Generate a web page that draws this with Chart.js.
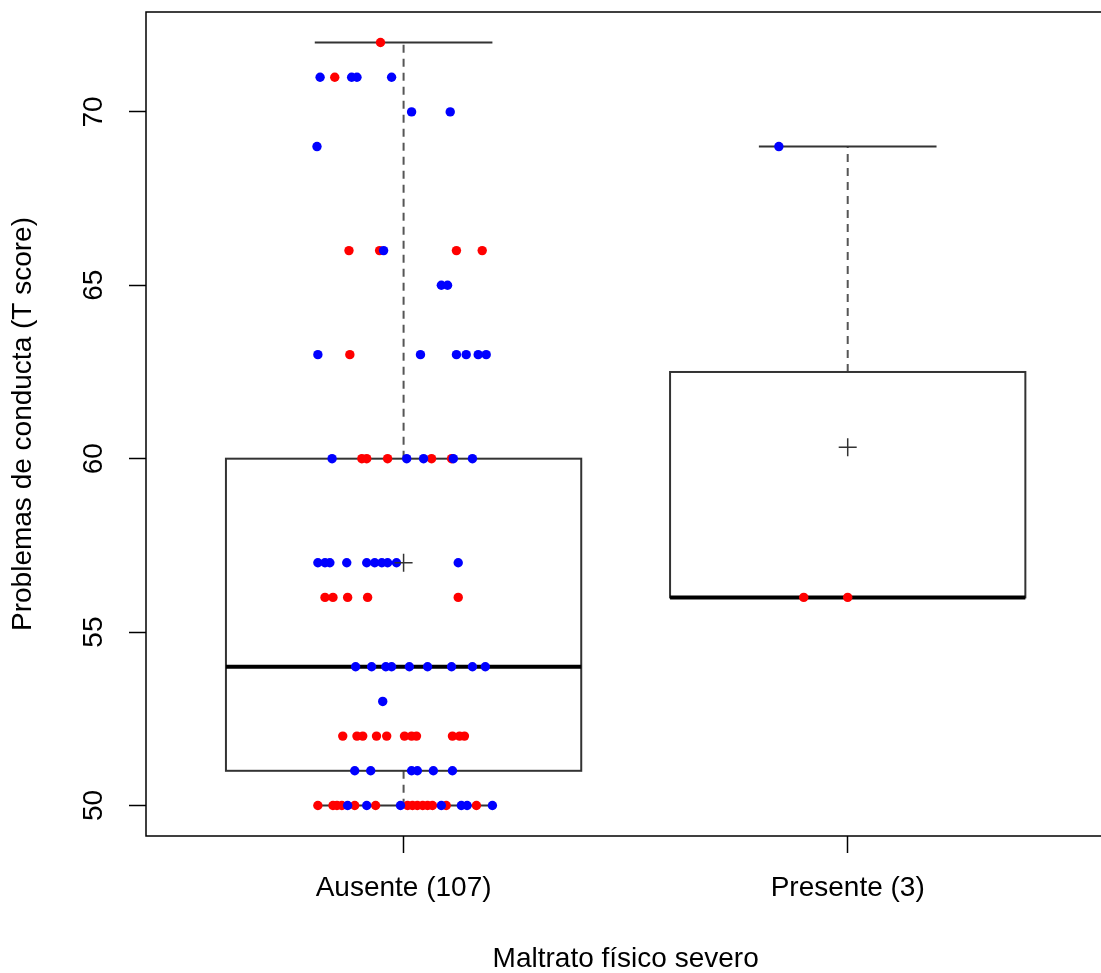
<!DOCTYPE html>
<html>
<head>
<meta charset="utf-8">
<title>Problemas de conducta</title>
<script src="https://cdn.jsdelivr.net/npm/chart.js@4.4.1/dist/chart.umd.min.js"></script>
<style>
  html, body { margin: 0; padding: 0; background: #fff; overflow: hidden; }
  #wrap { width: 1110px; height: 973px; }
</style>
</head>
<body>
<div id="wrap"><canvas id="boxChart" width="1110" height="973"></canvas></div>
<script>
var categories = ['Ausente (107)', 'Presente (3)'];
var yTicks = [50, 55, 60, 65, 70];

// resumen de cada caja
var whiskerLow = [50, 56];
var q1 = [51, 56];
var medians = [54, 56];
var q3 = [60, 62.5];
var whiskerHigh = [72, 69];
var means = [57, 60.33];

// puntos con jitter (x = grupo + desplazamiento)
var redX = [0.948,
  0.845,
  0.877, 0.946, 1.119, 1.177,
  0.879,
  0.906, 0.917, 0.964, 1.063, 1.108,
  0.823, 0.841, 0.874, 0.919, 1.123,
  0.863, 0.895, 0.908, 0.939, 0.962, 1.002, 1.018, 1.029, 1.110, 1.126, 1.137,
  0.807, 0.841, 0.850, 0.861, 0.890, 0.937, 1.009, 1.020, 1.031, 1.043, 1.054, 1.065, 1.096, 1.164,
  1.901, 2.000];
var redY = [72,
  71,
  66, 66, 66, 66,
  63,
  60, 60, 60, 60, 60,
  56, 56, 56, 56, 56,
  52, 52, 52, 52, 52, 52, 52, 52, 52, 52, 52,
  50, 50, 50, 50, 50, 50, 50, 50, 50, 50, 50, 50, 50, 50,
  56, 56];

var blueX = [0.812, 0.883, 0.895, 0.973,
  1.018, 1.105,
  0.805,
  0.955,
  1.085, 1.099,
  0.807, 1.038, 1.119, 1.141, 1.168, 1.186,
  0.839, 1.007, 1.045, 1.112, 1.155,
  0.807, 0.823, 0.834, 0.872, 0.917, 0.935, 0.951, 0.964, 0.984, 1.123,
  0.892, 0.928, 0.960, 0.973, 1.013, 1.054, 1.108, 1.155, 1.184,
  0.953,
  0.890, 0.926, 1.018, 1.031, 1.067, 1.110,
  0.874, 0.917, 0.993, 1.085, 1.130, 1.143, 1.200,
  1.845];
var blueY = [71, 71, 71, 71,
  70, 70,
  69,
  66,
  65, 65,
  63, 63, 63, 63, 63, 63,
  60, 60, 60, 60, 60,
  57, 57, 57, 57, 57, 57, 57, 57, 57, 57,
  54, 54, 54, 54, 54, 54, 54, 54, 54,
  53,
  51, 51, 51, 51, 51, 51,
  50, 50, 50, 50, 50, 50, 50,
  69];

var fontFam = '"Liberation Sans", Arial, sans-serif';

function toPoints(xs, ys) {
  var out = [];
  for (var i = 0; i < xs.length; i++) out.push({ x: xs[i], y: ys[i] });
  return out;
}

var boxPlugin = {
  id: 'boxPlugin',
  beforeDatasetsDraw: function (chart) {
    var ctx = chart.ctx, sx = chart.scales.x, sy = chart.scales.y;
    ctx.save();
    for (var i = 0; i < categories.length; i++) {
      var c = i + 1;
      var xc = sx.getPixelForValue(c);
      var xl = sx.getPixelForValue(c - 0.4), xr = sx.getPixelForValue(c + 0.4);
      var cl = sx.getPixelForValue(c - 0.2), cr = sx.getPixelForValue(c + 0.2);
      var yQ1 = sy.getPixelForValue(q1[i]), yQ3 = sy.getPixelForValue(q3[i]);
      var yLo = sy.getPixelForValue(whiskerLow[i]), yHi = sy.getPixelForValue(whiskerHigh[i]);
      var yMed = sy.getPixelForValue(medians[i]);

      // bigotes
      ctx.setLineDash([8, 6]);
      ctx.strokeStyle = '#555';
      ctx.lineWidth = 2;
      ctx.beginPath();
      ctx.moveTo(xc, yQ3); ctx.lineTo(xc, yHi);
      if (whiskerLow[i] < q1[i]) { ctx.moveTo(xc, yQ1); ctx.lineTo(xc, yLo); }
      ctx.stroke();
      ctx.setLineDash([]);

      ctx.strokeStyle = '#333';
      ctx.beginPath();
      ctx.moveTo(cl, yHi); ctx.lineTo(cr, yHi);
      if (whiskerLow[i] < q1[i]) { ctx.moveTo(cl, yLo); ctx.lineTo(cr, yLo); }
      ctx.stroke();

      // caja
      ctx.lineWidth = 2;
      ctx.strokeRect(xl, yQ3, xr - xl, yQ1 - yQ3);

      // mediana
      ctx.strokeStyle = '#000';
      ctx.lineWidth = 4;
      ctx.beginPath();
      ctx.moveTo(xl, yMed); ctx.lineTo(xr, yMed);
      ctx.stroke();
    }
    ctx.restore();
  },
  afterDatasetsDraw: function (chart) {
    var ctx = chart.ctx, sx = chart.scales.x, sy = chart.scales.y, a = chart.chartArea;
    ctx.save();
    ctx.strokeStyle = '#333';
    ctx.lineWidth = 1.5;
    for (var i = 0; i < means.length; i++) {
      var px = sx.getPixelForValue(i + 1), py = sy.getPixelForValue(means[i]);
      ctx.beginPath();
      ctx.moveTo(px - 9, py); ctx.lineTo(px + 9, py);
      ctx.moveTo(px, py - 9); ctx.lineTo(px, py + 9);
      ctx.stroke();
    }
    // marco
    ctx.strokeStyle = '#000';
    ctx.lineWidth = 1.5;
    ctx.strokeRect(a.left, a.top, a.right - a.left, a.bottom - a.top);
    ctx.restore();
  }
};

new Chart(document.getElementById('boxChart'), {
  type: 'scatter',
  data: {
    datasets: [
      { label: 'azul', data: toPoints(blueX, blueY), backgroundColor: '#0000ff', borderWidth: 0, pointRadius: 4.7, order: 0 },
      { label: 'rojo', data: toPoints(redX, redY), backgroundColor: '#ff0000', borderWidth: 0, pointRadius: 4.7, order: 1 }
    ]
  },
  options: {
    responsive: false,
    animation: false,
    layout: { padding: { top: 12, right: 1, left: 0, bottom: 0 } },
    plugins: { legend: { display: false }, tooltip: { enabled: false } },
    scales: {
      x: {
        type: 'linear',
        min: 0.42,
        max: 2.58,
        bounds: 'data',
        afterBuildTicks: function (s) { s.ticks = [{ value: 1 }, { value: 2 }]; },
        afterFit: function (s) { s.height = 137; s.paddingLeft = 0; s.paddingRight = 0; },
        ticks: {
          autoSkip: false,
          maxRotation: 0,
          padding: 18,
          color: '#000',
          font: { family: fontFam, size: 28 },
          callback: function (v, idx) { return categories[idx]; }
        },
        grid: { drawOnChartArea: false, drawTicks: true, tickLength: 17, tickColor: '#000', tickWidth: 1.5 },
        border: { display: false },
        title: { display: true, text: 'Maltrato físico severo', color: '#000', font: { family: fontFam, size: 28, lineHeight: 1 }, padding: { top: 0, bottom: 0 } }
      },
      y: {
        type: 'linear',
        min: 49.12,
        max: 72.88,
        bounds: 'data',
        afterBuildTicks: function (s) { s.ticks = yTicks.map(function (v) { return { value: v }; }); },
        afterFit: function (s) { s.width = 146; s.paddingTop = 0; s.paddingBottom = 0; },
        ticks: {
          minRotation: 90,
          maxRotation: 90,
          crossAlign: 'center',
          padding: 19,
          color: '#000',
          font: { family: fontFam, size: 28 }
        },
        grid: { drawOnChartArea: false, drawTicks: true, tickLength: 17, tickColor: '#000', tickWidth: 1.5 },
        border: { display: false },
        title: { display: true, text: 'Problemas de conducta (T score)', color: '#000', font: { family: fontFam, size: 28, lineHeight: 1 }, padding: { top: 9, bottom: 0 } }
      }
    }
  },
  plugins: [boxPlugin]
});
</script>
</body>
</html>
